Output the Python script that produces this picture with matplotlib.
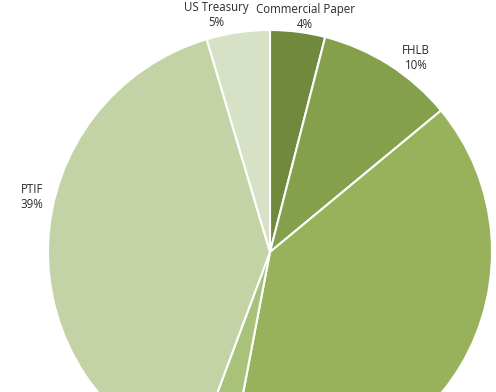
import matplotlib.pyplot as plt

# portfolio shares (%), clockwise from 12 o'clock
categories = ["Commercial Paper", "FHLB", "Agency", "Other", "PTIF", "US Treasury"]
shares = [4, 10, 39, 2.7, 39.7, 4.6]
colors = ["#70893D", "#84A04A", "#97B25A", "#A9C27A", "#C3D3A6", "#D7E1C5"]
pct_labels = ["4%", "10%", "39%", "3%", "39%", "5%"]

# labels that are visible in the frame
label_pos = {
    "US Treasury": (216, 377),
    "Commercial Paper": (305, 375),
    "FHLB": (416, 334),
    "PTIF": (32, 195),
}

fig = plt.figure(figsize=(4.96, 3.92), dpi=100)
ax = fig.add_axes([0, 0, 1, 1])

ax.pie(shares, colors=colors, startangle=90, counterclock=False,
       center=(270, 140), radius=222, frame=True,
       wedgeprops=dict(edgecolor="white", linewidth=1.5))
ax.set_xlim(0, 496)
ax.set_ylim(0, 392)
ax.set_aspect("equal")
ax.axis("off")

for name, pct in zip(categories, pct_labels):
    if name in label_pos:
        x, y = label_pos[name]
        ax.text(x, y, f"{name}\n{pct}", ha="center", va="center",
                fontsize=8.3, family="Open Sans", color="#2b2b2b",
                linespacing=1.2)

fig.savefig("out.png", dpi=100)
